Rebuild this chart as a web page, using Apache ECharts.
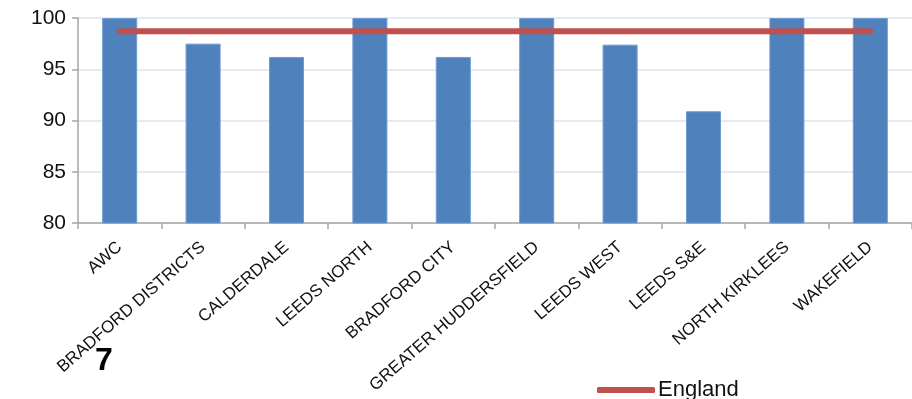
<!DOCTYPE html>
<html><head><meta charset="utf-8">
<script src="https://cdn.jsdelivr.net/npm/echarts@6/dist/echarts.min.js"></script>
<style>html,body{margin:0;padding:0;background:#fff}#c{width:912px;height:399px}</style>
</head><body><div id="c"></div>
<script>
var categories = ['AWC','BRADFORD DISTRICTS','CALDERDALE','LEEDS NORTH','BRADFORD CITY','GREATER HUDDERSFIELD','LEEDS WEST','LEEDS S&E','NORTH KIRKLEES','WAKEFIELD'];
var values = [100, 97.5, 96.2, 100, 96.2, 100, 97.4, 90.9, 100, 100];
var england = [98.7, 98.7, 98.7, 98.7, 98.7, 98.7, 98.7, 98.7, 98.7, 98.7];
var yTicks = [80, 85, 90, 95, 100];

var chart = echarts.init(document.getElementById('c'), null, {renderer:'canvas'});
chart.setOption({
  animation:false,
  textStyle:{fontFamily:'Liberation Sans'},
  grid:{left:78, top:18, width:842, height:205, containLabel:false},
  legend:{
    data:['England'], left:592, top:374, icon:'roundRect', itemWidth:58, itemHeight:6, itemGap:4,
    textStyle:{fontSize:22, color:'#111', fontFamily:'Liberation Sans', padding:[0,0,0,-2]}
  },
  graphic:[{type:'text', left:95, top:345, style:{text:'7', font:'bold 32px Liberation Sans', fill:'#000'}}],
  xAxis:{
    type:'category', data:categories, boundaryGap:true,
    axisLine:{lineStyle:{color:'#a6a6a6', width:1.5}},
    axisTick:{show:true, length:6, alignWithLabel:false, lineStyle:{color:'#a6a6a6', width:1.5}},
    axisLabel:{rotate:41, fontSize:17, color:'#111', margin:22, interval:0}
  },
  yAxis:{
    type:'value', min:yTicks[0], max:yTicks[yTicks.length-1], interval:5,
    axisLine:{show:true, lineStyle:{color:'#a6a6a6', width:1.5}},
    axisTick:{show:true, length:6, inside:false, lineStyle:{color:'#a6a6a6', width:1.5}},
    axisLabel:{fontSize:21, color:'#111', margin:12},
    splitLine:{lineStyle:{color:'#dbe5f1', width:1.5}}
  },
  series:[
    {name:'Value', type:'bar', data:values, barWidth:'42%',
     itemStyle:{color:'#4f81bd', borderColor:'#6f9bd0', borderWidth:1}},
    {name:'England', type:'line', data:england, symbol:'none',
     lineStyle:{color:'#c0504d', width:6, cap:'round'}, itemStyle:{color:'#c0504d'}, z:5}
  ]
});
</script></body></html>
